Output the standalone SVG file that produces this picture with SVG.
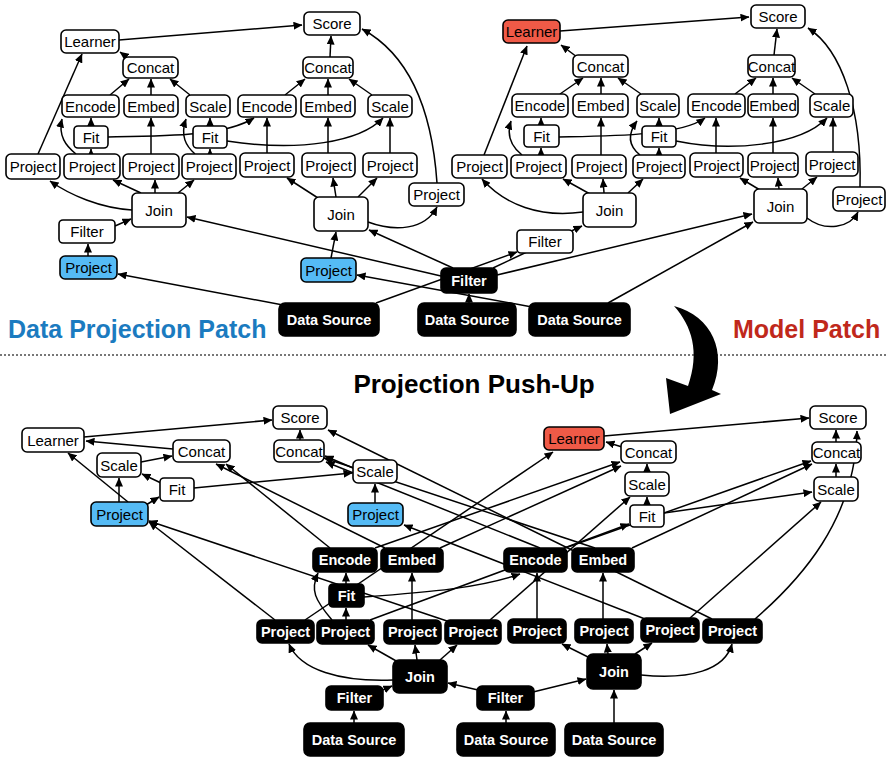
<svg xmlns="http://www.w3.org/2000/svg" width="887" height="757" viewBox="0 0 887 757">
<style>
text{font-family:"Liberation Sans",Arial,Helvetica,sans-serif;font-size:15px;text-anchor:middle;fill:#000}
.n rect{fill:#fff;stroke:#000;stroke-width:1.6}
.b rect{fill:#55bbf5;stroke:#000;stroke-width:1.6}
.r rect{fill:#ef5a47;stroke:#000;stroke-width:1.6}
.k rect{fill:#000;stroke:#000;stroke-width:1.6}
.k text{fill:#fff;font-weight:bold;font-size:14.5px}
#edges path{fill:none;stroke:#000;stroke-width:1.5;marker-end:url(#ah)}
.lbl{font-weight:bold;font-size:25px;text-anchor:start}
</style>
<defs>
<marker id="ah" markerUnits="userSpaceOnUse" markerWidth="9" markerHeight="8" refX="8.5" refY="4" orient="auto"><path d="M0,0 L9,4 L0,8 z" fill="#000"/></marker>
</defs>
<rect width="887" height="757" fill="#fff"/>
<g id="edges">
<path d="M119,40 L302,25"/>
<path d="M128,58 L120,52"/>
<path d="M110,95 L129,79"/>
<path d="M151,95 L151,79"/>
<path d="M190,95 L170,79"/>
<path d="M91,126 L91,118"/>
<path d="M91,154 L91,149"/>
<path d="M76,154 C66,146 58,136 62,119"/>
<path d="M151,154 L151,118"/>
<path d="M210,154 L210,149"/>
<path d="M195,154 C186,146 180,136 186,119"/>
<path d="M210,126 L210,118"/>
<path d="M108,137 C170,136 225,136 254,118"/>
<path d="M227,141 C300,152 360,142 383,118"/>
<path d="M38,154 L82,54"/>
<path d="M132,210 C100,208 70,195 50,181"/>
<path d="M141,193 L113,180"/>
<path d="M155,193 L155,180"/>
<path d="M178,193 L194,180"/>
<path d="M115,226 L131,219"/>
<path d="M88,256 L88,244"/>
<path d="M283,305 L118,274"/>
<path d="M441,276 L187,217"/>
<path d="M330,57 L331,36"/>
<path d="M285,95 L305,79"/>
<path d="M328,95 L328,79"/>
<path d="M372,95 L349,79"/>
<path d="M267,153 L267,118"/>
<path d="M328,153 L328,118"/>
<path d="M390,153 L390,118"/>
<path d="M437,183 C432,110 410,55 362,29"/>
<path d="M318,198 L287,178"/>
<path d="M336,197 L333,178"/>
<path d="M358,197 L377,178"/>
<path d="M368,222 C395,232 425,230 437,207"/>
<path d="M331,258 L336,232"/>
<path d="M453,268 L369,230"/>
<path d="M532,307 L357,275"/>
<path d="M469,303 L469,294"/>
<path d="M376,303 L517,252"/>
<path d="M493,268 L582,226"/>
<path d="M497,275 L752,214"/>
<path d="M608,303 L753,222"/>
<path d="M560,31 L749,17"/>
<path d="M577,57 L561,45"/>
<path d="M560,94 L583,78"/>
<path d="M601,94 L601,78"/>
<path d="M641,94 L618,78"/>
<path d="M541,125 L541,118"/>
<path d="M541,155 L541,148"/>
<path d="M522,155 C512,147 506,136 511,121"/>
<path d="M484,155 L527,46"/>
<path d="M601,155 L601,118"/>
<path d="M659,155 L659,148"/>
<path d="M640,155 C630,147 626,136 637,121"/>
<path d="M659,126 L659,118"/>
<path d="M559,137 C610,136 680,136 705,118"/>
<path d="M676,141 C730,152 800,146 827,118"/>
<path d="M716,153 L716,118"/>
<path d="M773,153 L773,118"/>
<path d="M833,152 L833,118"/>
<path d="M735,94 L756,78"/>
<path d="M773,94 L773,78"/>
<path d="M815,94 L792,78"/>
<path d="M774,55 L777,29"/>
<path d="M860,187 C862,110 842,50 808,28"/>
<path d="M583,212 C540,218 505,205 482,179"/>
<path d="M590,194 L563,179"/>
<path d="M604,193 L603,179"/>
<path d="M628,193 L643,179"/>
<path d="M760,190 L740,178"/>
<path d="M779,189 L778,178"/>
<path d="M802,189 L817,177"/>
<path d="M807,218 C825,232 850,228 858,212"/>

<path d="M275,620 L149,522"/>
<path d="M447,621 L149,521"/>
<path d="M305,620 L553,452"/>
<path d="M128,502 L68,453"/>
<path d="M119,502 L119,478"/>
<path d="M146,505 L159,497"/>
<path d="M161,483 L142,474"/>
<path d="M194,488 L352,473"/>
<path d="M141,462 L172,456"/>
<path d="M173,449 L86,441"/>
<path d="M84,437 L272,420"/>
<path d="M330,548 L226,464"/>
<path d="M385,548 L216,464"/>
<path d="M375,548 L620,462"/>
<path d="M440,548 L621,466"/>
<path d="M540,548 L326,462"/>
<path d="M595,548 L324,458"/>
<path d="M565,548 L811,461"/>
<path d="M632,548 L812,464"/>
<path d="M353,468 L325,456"/>
<path d="M375,503 L375,484"/>
<path d="M645,619 L404,525"/>
<path d="M712,619 L328,430"/>
<path d="M300,440 L300,430"/>
<path d="M755,619 C800,580 855,520 857,431"/>
<path d="M690,618 L821,502"/>
<path d="M490,620 L630,497"/>
<path d="M370,620 L629,524"/>
<path d="M647,505 L647,497"/>
<path d="M647,472 L647,464"/>
<path d="M622,447 L606,442"/>
<path d="M604,436 L809,418"/>
<path d="M664,513 L812,492"/>
<path d="M836,477 L836,464"/>
<path d="M836,442 L836,430"/>
<path d="M346,584 L346,573"/>
<path d="M346,620 L346,608"/>
<path d="M332,620 C315,600 310,590 318,573"/>
<path d="M364,597 C430,592 480,588 520,574"/>
<path d="M412,620 L412,573"/>
<path d="M537,619 L537,573"/>
<path d="M603,619 L603,573"/>
<path d="M398,662 L368,645"/>
<path d="M417,660 L415,645"/>
<path d="M440,660 L457,645"/>
<path d="M393,680 C340,682 300,670 289,644"/>
<path d="M383,690 L392,686"/>
<path d="M478,690 L448,683"/>
<path d="M354,723 L354,711"/>
<path d="M506,723 L506,711"/>
<path d="M533,692 L586,679"/>
<path d="M614,723 L614,690"/>
<path d="M588,657 L562,644"/>
<path d="M608,654 L607,644"/>
<path d="M635,654 L652,643"/>
<path d="M641,675 C690,680 725,670 732,644"/>
</g>

<g id="t-learner1" class="n"><rect x="61" y="30" width="58" height="23" rx="5"/><text x="90" y="46.5">Learner</text></g>
<g id="t-concat1" class="n"><rect x="123" y="57" width="55" height="21" rx="5"/><text x="150.5" y="72.5">Concat</text></g>
<g id="t-encode1" class="n"><rect x="62" y="95" width="57" height="22" rx="5"/><text x="90.5" y="111.5">Encode</text></g>
<g id="t-embed1" class="n"><rect x="124" y="95" width="54" height="22" rx="5"/><text x="151" y="111.5">Embed</text></g>
<g id="t-scale1" class="n"><rect x="186" y="95" width="44" height="22" rx="5"/><text x="208" y="111.5">Scale</text></g>
<g id="t-fita" class="n"><rect x="74" y="126" width="34" height="22" rx="4"/><text x="91" y="142.5">Fit</text></g>
<g id="t-fitb" class="n"><rect x="193" y="126" width="34" height="22" rx="4"/><text x="210" y="142.5">Fit</text></g>
<g id="t-proj1" class="n"><rect x="6" y="154" width="54" height="25" rx="5"/><text x="33" y="172">Project</text></g>
<g id="t-proj2" class="n"><rect x="64" y="154" width="56" height="25" rx="5"/><text x="92" y="172">Project</text></g>
<g id="t-proj3" class="n"><rect x="123" y="154" width="56" height="25" rx="5"/><text x="151" y="172">Project</text></g>
<g id="t-proj4" class="n"><rect x="182" y="154" width="54" height="25" rx="5"/><text x="209" y="172">Project</text></g>
<g id="t-join1" class="n"><rect x="132" y="193" width="54" height="34" rx="5"/><text x="159" y="215.5">Join</text></g>
<g id="t-filter1" class="n"><rect x="59" y="220" width="56" height="23" rx="4"/><text x="87" y="237">Filter</text></g>
<g id="t-projblue1" class="b"><rect x="60" y="256" width="57" height="23" rx="5"/><text x="88.5" y="273">Project</text></g>

<g id="t-score2" class="n"><rect x="304" y="12" width="56" height="23" rx="5"/><text x="332" y="29">Score</text></g>
<g id="t-concat2" class="n"><rect x="303" y="57" width="50" height="21" rx="5"/><text x="328" y="72.5">Concat</text></g>
<g id="t-encode2" class="n"><rect x="238" y="95" width="58" height="22" rx="5"/><text x="267" y="111.5">Encode</text></g>
<g id="t-embed2" class="n"><rect x="301" y="95" width="54" height="22" rx="5"/><text x="328" y="111.5">Embed</text></g>
<g id="t-scale2" class="n"><rect x="368" y="95" width="44" height="22" rx="5"/><text x="390" y="111.5">Scale</text></g>
<g id="t-proj5" class="n"><rect x="240" y="153" width="54" height="24" rx="5"/><text x="267" y="170.5">Project</text></g>
<g id="t-proj6" class="n"><rect x="302" y="153" width="53" height="24" rx="5"/><text x="328.5" y="170.5">Project</text></g>
<g id="t-proj7" class="n"><rect x="363" y="153" width="54" height="24" rx="5"/><text x="390" y="170.5">Project</text></g>
<g id="t-projx2" class="n"><rect x="409" y="183" width="55" height="23" rx="5"/><text x="436.5" y="200">Project</text></g>
<g id="t-join2" class="n"><rect x="314" y="197" width="54" height="34" rx="5"/><text x="341" y="219.5">Join</text></g>
<g id="t-projblue2" class="b"><rect x="301" y="258" width="55" height="24" rx="5"/><text x="328.5" y="275.5">Project</text></g>

<g id="t-filterblack" class="k"><rect x="441" y="268" width="56" height="25" rx="5"/><text x="469" y="286">Filter</text></g>
<g id="t-ds1" class="k"><rect x="279" y="303" width="100" height="33" rx="6"/><text x="329" y="325">Data Source</text></g>
<g id="t-ds2" class="k"><rect x="418" y="303" width="98" height="33" rx="6"/><text x="467" y="325">Data Source</text></g>
<g id="t-ds3" class="k"><rect x="529" y="303" width="101" height="33" rx="6"/><text x="579.5" y="325">Data Source</text></g>

<g id="t-learnerred" class="r"><rect x="503" y="20" width="57" height="23" rx="5"/><text x="531.5" y="37">Learner</text></g>
<g id="t-concat3" class="n"><rect x="573" y="55" width="55" height="22" rx="5"/><text x="600.5" y="71.5">Concat</text></g>
<g id="t-encode3" class="n"><rect x="512" y="94" width="56" height="23" rx="5"/><text x="540" y="111">Encode</text></g>
<g id="t-embed3" class="n"><rect x="573" y="94" width="55" height="23" rx="5"/><text x="600.5" y="111">Embed</text></g>
<g id="t-scale3" class="n"><rect x="637" y="94" width="42" height="23" rx="5"/><text x="658" y="111">Scale</text></g>
<g id="t-fit3" class="n"><rect x="524" y="125" width="35" height="22" rx="4"/><text x="541.5" y="141.5">Fit</text></g>
<g id="t-fit4" class="n"><rect x="642" y="126" width="34" height="21" rx="4"/><text x="659" y="142">Fit</text></g>
<g id="t-proj3a" class="n"><rect x="452" y="155" width="55" height="23" rx="5"/><text x="479.5" y="172">Project</text></g>
<g id="t-proj3b" class="n"><rect x="511" y="155" width="55" height="23" rx="5"/><text x="538.5" y="172">Project</text></g>
<g id="t-proj3c" class="n"><rect x="572" y="155" width="54" height="23" rx="5"/><text x="599" y="172">Project</text></g>
<g id="t-proj3d" class="n"><rect x="633" y="155" width="52" height="23" rx="5"/><text x="659" y="172">Project</text></g>
<g id="t-join3" class="n"><rect x="583" y="193" width="53" height="34" rx="5"/><text x="609.5" y="215.5">Join</text></g>
<g id="t-filterw2" class="n"><rect x="517" y="230" width="56" height="23" rx="4"/><text x="545" y="247">Filter</text></g>

<g id="t-score4" class="n"><rect x="751" y="5" width="54" height="23" rx="5"/><text x="778" y="22">Score</text></g>
<g id="t-concat4" class="n"><rect x="748" y="55" width="47" height="22" rx="5"/><text x="771.5" y="71.5">Concat</text></g>
<g id="t-encode4" class="n"><rect x="688" y="94" width="57" height="23" rx="5"/><text x="716.5" y="111">Encode</text></g>
<g id="t-embed4" class="n"><rect x="748" y="94" width="50" height="23" rx="5"/><text x="773" y="111">Embed</text></g>
<g id="t-scale4" class="n"><rect x="810" y="94" width="43" height="23" rx="5"/><text x="831.5" y="111">Scale</text></g>
<g id="t-proj4a" class="n"><rect x="690" y="153" width="53" height="24" rx="5"/><text x="716.5" y="170.5">Project</text></g>
<g id="t-proj4b" class="n"><rect x="748" y="153" width="50" height="24" rx="5"/><text x="773" y="170.5">Project</text></g>
<g id="t-proj4c" class="n"><rect x="806" y="152" width="52" height="24" rx="5"/><text x="832" y="169.5">Project</text></g>
<g id="t-join4" class="n"><rect x="754" y="189" width="53" height="34" rx="5"/><text x="780.5" y="211.5">Join</text></g>
<g id="t-projx4" class="n"><rect x="833" y="187" width="52" height="24" rx="5"/><text x="859" y="204.5">Project</text></g>

<g id="b-learner1" class="n"><rect x="22" y="428" width="62" height="24" rx="5"/><text x="53" y="445.5">Learner</text></g>
<g id="b-concat1" class="n"><rect x="173" y="440" width="57" height="22" rx="5"/><text x="201.5" y="456.5">Concat</text></g>
<g id="b-scale1" class="n"><rect x="97" y="453" width="44" height="24" rx="5"/><text x="119" y="470.5">Scale</text></g>
<g id="b-fit1" class="n"><rect x="160" y="478" width="34" height="23" rx="4"/><text x="177" y="495">Fit</text></g>
<g id="b-projblue1" class="b"><rect x="91" y="502" width="57" height="24" rx="5"/><text x="119.5" y="519.5">Project</text></g>
<g id="b-score2" class="n"><rect x="273" y="406" width="54" height="23" rx="5"/><text x="300" y="423">Score</text></g>
<g id="b-concat2" class="n"><rect x="274" y="440" width="50" height="22" rx="5"/><text x="299" y="456.5">Concat</text></g>
<g id="b-scale2" class="n"><rect x="353" y="460" width="44" height="23" rx="5"/><text x="375" y="477">Scale</text></g>
<g id="b-projblue2" class="b"><rect x="348" y="503" width="55" height="23" rx="5"/><text x="375.5" y="520">Project</text></g>
<g id="b-learnerred" class="r"><rect x="544" y="427" width="60" height="23" rx="5"/><text x="574" y="444">Learner</text></g>
<g id="b-concat3" class="n"><rect x="621" y="441" width="55" height="22" rx="5"/><text x="648.5" y="457.5">Concat</text></g>
<g id="b-scale3" class="n"><rect x="625" y="472" width="44" height="24" rx="5"/><text x="647" y="489.5">Scale</text></g>
<g id="b-fit3" class="n"><rect x="630" y="505" width="34" height="22" rx="4"/><text x="647" y="521.5">Fit</text></g>
<g id="b-score4" class="n"><rect x="810" y="406" width="56" height="23" rx="5"/><text x="838" y="423">Score</text></g>
<g id="b-concat4" class="n"><rect x="812" y="442" width="49" height="21" rx="5"/><text x="836.5" y="458">Concat</text></g>
<g id="b-scale4" class="n"><rect x="814" y="477" width="44" height="24" rx="5"/><text x="836" y="494.5">Scale</text></g>

<g id="b-encode1" class="k"><rect x="313" y="548" width="64" height="24" rx="5"/><text x="345" y="565">Encode</text></g>
<g id="b-embed1" class="k"><rect x="381" y="548" width="62" height="24" rx="5"/><text x="412" y="565">Embed</text></g>
<g id="b-fitk" class="k"><rect x="329" y="584" width="35" height="23" rx="4"/><text x="346.5" y="600.5">Fit</text></g>
<g id="b-p1" class="k"><rect x="257" y="620" width="57" height="23" rx="5"/><text x="285.5" y="636.5">Project</text></g>
<g id="b-p2" class="k"><rect x="317" y="620" width="57" height="24" rx="5"/><text x="345.5" y="637">Project</text></g>
<g id="b-p3" class="k"><rect x="384" y="620" width="57" height="24" rx="5"/><text x="412.5" y="637">Project</text></g>
<g id="b-p4" class="k"><rect x="445" y="620" width="56" height="24" rx="5"/><text x="473" y="637">Project</text></g>
<g id="b-join1" class="k"><rect x="393" y="660" width="54" height="33" rx="6"/><text x="420" y="681.5">Join</text></g>
<g id="b-filter1" class="k"><rect x="326" y="686" width="57" height="24" rx="5"/><text x="354.5" y="703">Filter</text></g>
<g id="b-ds1" class="k"><rect x="304" y="723" width="100" height="33" rx="6"/><text x="354" y="744.5">Data Source</text></g>
<g id="b-filter2" class="k"><rect x="477" y="686" width="57" height="24" rx="5"/><text x="505.5" y="703">Filter</text></g>
<g id="b-ds2" class="k"><rect x="457" y="723" width="98" height="33" rx="6"/><text x="506" y="744.5">Data Source</text></g>
<g id="b-encode2" class="k"><rect x="504" y="548" width="63" height="24" rx="5"/><text x="535.5" y="565">Encode</text></g>
<g id="b-embed2" class="k"><rect x="572" y="548" width="62" height="24" rx="5"/><text x="603" y="565">Embed</text></g>
<g id="b-p5" class="k"><rect x="508" y="619" width="58" height="24" rx="5"/><text x="537" y="636">Project</text></g>
<g id="b-p6" class="k"><rect x="575" y="619" width="58" height="24" rx="5"/><text x="604" y="636">Project</text></g>
<g id="b-p7" class="k"><rect x="641" y="618" width="58" height="24" rx="5"/><text x="670" y="635">Project</text></g>
<g id="b-p8" class="k"><rect x="703" y="619" width="59" height="24" rx="5"/><text x="732.5" y="636">Project</text></g>
<g id="b-join2" class="k"><rect x="587" y="654" width="54" height="35" rx="6"/><text x="614" y="676.5">Join</text></g>
<g id="b-ds3" class="k"><rect x="565" y="723" width="98" height="33" rx="6"/><text x="614" y="744.5">Data Source</text></g>

<text class="lbl" x="8" y="338" style="fill:#1b7bc0">Data Projection Patch</text>
<text class="lbl" x="733" y="338" style="fill:#c0281b">Model Patch</text>
<text x="474" y="393" style="font-weight:bold;font-size:26px">Projection Push-Up</text>
<line x1="0" y1="355" x2="887" y2="355" stroke="#777" stroke-width="2" stroke-dasharray="2,2"/>
<path d="M674,306 C712,316 728,352 712,390 L721,394 L670,414 L666,378 L688,386 C700,352 692,326 674,306 Z" fill="#000"/>
</svg>
